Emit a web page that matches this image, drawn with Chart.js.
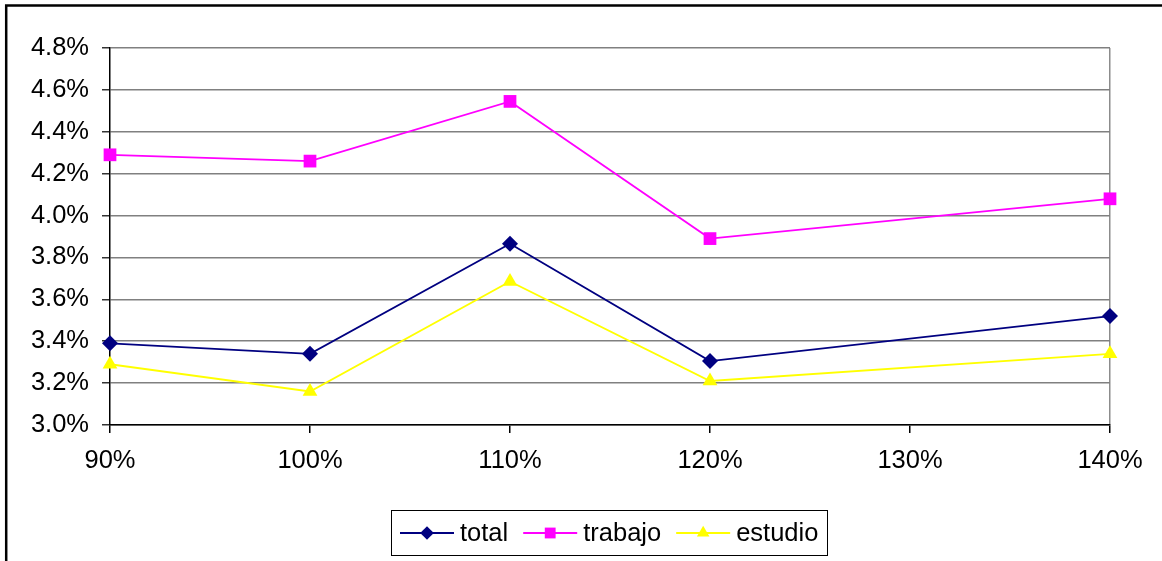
<!DOCTYPE html>
<html>
<head>
<meta charset="utf-8">
<script src="https://cdn.jsdelivr.net/npm/chart.js@4/dist/chart.umd.min.js"></script>
<style>
  html, body { margin: 0; padding: 0; background: #ffffff; }
  canvas { display: block; }
</style>
</head>
<body>
<canvas id="chart" width="1162" height="561"></canvas>
<script>
// Occupancy level (x, %) and rate (y, %) for each group
const categories = [90, 100, 110, 120, 140];
const totalValues = [3.39, 3.34, 3.865, 3.305, 3.52];
const trabajoValues = [4.29, 4.26, 4.545, 3.89, 4.08];
const estudioValues = [3.29, 3.16, 3.685, 3.21, 3.34];
const seriesNames = ['total', 'trabajo', 'estudio'];

const FONT = 'Liberation Sans, Arial, sans-serif';
const FONT_SIZE = 25.5;

function toPoints(values) {
  return categories.map((x, i) => ({ x: x, y: values[i] }));
}

function makeSeries(label, values, color, style, radius) {
  return {
    label: label,
    data: toPoints(values),
    borderColor: color,
    backgroundColor: color,
    pointBackgroundColor: color,
    pointBorderColor: color,
    pointStyle: style,
    pointRadius: radius,
    pointBorderWidth: 0,
    borderWidth: 1.8,
    tension: 0,
    fill: false,
    clip: false
  };
}

// Outer frame of the chart object (top and left edges)
const framePlugin = {
  id: 'frame',
  beforeDraw(chart) {
    const ctx = chart.ctx;
    ctx.save();
    ctx.fillStyle = '#ffffff';
    ctx.fillRect(0, 0, chart.width, chart.height);
    ctx.strokeStyle = '#000000';
    ctx.lineWidth = 2.5;
    ctx.beginPath();
    ctx.moveTo(chart.width + 2, 5.5);
    ctx.lineTo(6.2, 5.5);
    ctx.lineTo(6.2, chart.height + 2);
    ctx.stroke();
    ctx.restore();
  }
};

// Boxed legend below the plot, one line sample with marker per series
const boxLegendPlugin = {
  id: 'boxLegend',
  afterDraw(chart) {
    const ctx = chart.ctx;
    const sets = chart.data.datasets;
    ctx.save();
    ctx.font = FONT_SIZE + 'px ' + FONT;
    const lineLen = 54, textGap = 6, itemGap = 15, padX = 9;
    let width = padX * 2;
    sets.forEach((ds, i) => {
      width += lineLen + textGap + ctx.measureText(ds.label).width;
      if (i < sets.length - 1) width += itemGap;
    });
    const boxLeft = 391;
    const boxTop = 510, boxH = 45;
    ctx.strokeStyle = '#000000';
    ctx.lineWidth = 1;
    ctx.strokeRect(boxLeft + 0.5, boxTop + 0.5, Math.round(width), boxH);
    const cy = boxTop + boxH / 2 + 0.5;
    let x = boxLeft + padX;
    sets.forEach((ds) => {
      ctx.strokeStyle = ds.borderColor;
      ctx.lineWidth = 1.8;
      ctx.beginPath();
      ctx.moveTo(x, cy);
      ctx.lineTo(x + lineLen, cy);
      ctx.stroke();
      ctx.fillStyle = ds.backgroundColor;
      ctx.strokeStyle = ds.borderColor;
      Chart.helpers.drawPoint(ctx, {
        pointStyle: ds.pointStyle,
        radius: ds.pointRadius * 0.85,
        rotation: 0,
        borderWidth: 0
      }, x + lineLen / 2, cy);
      x += lineLen + textGap;
      ctx.fillStyle = '#000000';
      ctx.textAlign = 'left';
      ctx.textBaseline = 'middle';
      ctx.fillText(ds.label, x, cy + 1);
      x += ctx.measureText(ds.label).width + itemGap;
    });
    ctx.restore();
  }
};

new Chart(document.getElementById('chart'), {
  type: 'line',
  data: {
    datasets: [
      makeSeries(seriesNames[0], totalValues, '#000080', 'rectRot', 8),
      makeSeries(seriesNames[1], trabajoValues, '#FF00FF', 'rect', 9),
      makeSeries(seriesNames[2], estudioValues, '#FFFF00', 'triangle', 8.5)
    ]
  },
  options: {
    responsive: false,
    animation: false,
    events: [],
    layout: { padding: { left: 0, top: 48, right: 52, bottom: 0 } },
    plugins: {
      legend: { display: false },
      tooltip: { enabled: false }
    },
    scales: {
      x: {
        type: 'linear',
        min: 90,
        max: 140,
        ticks: {
          stepSize: 10,
          autoSkip: false,
          maxRotation: 0,
          padding: 13,
          color: '#000000',
          font: { family: FONT, size: FONT_SIZE },
          callback: (v) => v + '%'
        },
        grid: {
          drawOnChartArea: true,
          color: (c) => (c.tick && c.tick.value === 140 ? '#8c8c8c' : 'rgba(0,0,0,0)'),
          tickColor: '#000000',
          tickLength: 8,
          lineWidth: 1.5
        },
        border: { color: '#000000', width: 1.5 },
        afterFit: (s) => { s.height = 136; }
      },
      y: {
        min: 3.0,
        max: 4.8,
        ticks: {
          stepSize: 0.2,
          padding: 13,
          color: '#000000',
          font: { family: FONT, size: FONT_SIZE },
          callback: (v) => Number(v).toFixed(1) + '%'
        },
        grid: {
          color: '#808080',
          tickColor: '#333333',
          tickLength: 8,
          lineWidth: 1.5
        },
        border: { color: '#000000', width: 1.5 },
        afterFit: (s) => { s.width = 110; }
      }
    }
  },
  plugins: [framePlugin, boxLegendPlugin]
});
</script>
</body>
</html>
